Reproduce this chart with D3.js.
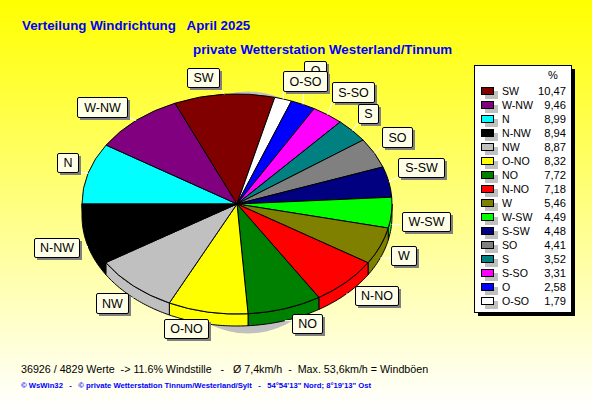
<!DOCTYPE html>
<html><head><meta charset="utf-8">
<script src="https://cdn.jsdelivr.net/npm/d3@7/dist/d3.min.js"></script>
<style>
html,body{margin:0;padding:0;background:#fff}
svg{display:block}
text{font-family:"Liberation Sans",Arial,sans-serif;white-space:pre;text-rendering:optimizeSpeed}
</style></head><body>
<script>
const categories=["SW","W-NW","N","N-NW","NW","O-NO","NO","N-NO","W","W-SW","S-SW","SO","S","S-SO","O","O-SO"];
const shares=[10.47,9.46,8.99,8.94,8.87,8.32,7.72,7.18,5.46,4.49,4.48,4.41,3.52,3.31,2.58,1.79];
const shareLabels=["10,47","9,46","8,99","8,94","8,87","8,32","7,72","7,18","5,46","4,49","4,48","4,41","3,52","3,31","2,58","1,79"];
const colours=["#800000","#800080","#00ffff","#000000","#c0c0c0","#ffff00","#008000","#ff0000","#808000","#00ff00","#000080","#808080","#008080","#ff00ff","#0000ff","#ffffff"];
const pieOrder=["N","W-NW","SW","O-SO","O","S-SO","S","SO","S-SW","W-SW","W","N-NO","NO","O-NO","NW","N-NW"];
const titleLine1="Verteilung Windrichtung   April 2025";
const titleLine2="private Wetterstation Westerland/Tinnum";
const footerLine1="36926 / 4829 Werte  -> 11.6% Windstille   -   Ø 7,4km/h  -  Max. 53,6km/h = Windböen";
const footerLine2="© WsWin32   -   © private Wetterstation Tinnum/Westerland/Sylt   -   54°54'13\" Nord; 8°19'13\" Ost";
// label-box layout (x0,y0,x1,y1), separate from the data
const labelBoxes={"SW":[187,68,219,87],"W-NW":[77,97,127,117],"N":[57,153,78,172],"N-NW":[34,238,79,257],"NW":[96,293,128,313],"O-NO":[164,319,208,338],"NO":[292,314,322,333],"N-NO":[355,286,398,305],"W":[391,246,416,265],"W-SW":[402,212,450,231],"S-SW":[398,158,444,177],"SO":[382,127,412,147],"S":[358,104,378,123],"S-SO":[332,82,374,102],"O":[304,61,326,80],"O-SO":[283,71,327,91]};
const labelDrawOrder=["O","O-SO","S-SO","S","SO","S-SW","W-SW","W","N-NO","NO","O-NO","NW","N-NW","N","W-NW","SW"];

const W=592,H=407,cx=237,cy=204,rx=155,ry=110,depth=12;
const svg=d3.select("body").append("svg").attr("width",W).attr("height",H);
const g=svg.append("defs").append("linearGradient").attr("id","bg").attr("x1",0).attr("x2",0).attr("y1",0).attr("y2",1);
g.append("stop").attr("offset","0").attr("stop-color","#ffff00");
g.append("stop").attr("offset","1").attr("stop-color","#ffffff");
svg.append("rect").attr("width",W).attr("height",H).attr("fill","url(#bg)");

const valueOf=c=>shares[categories.indexOf(c)], colourOf=c=>colours[categories.indexOf(c)];
const pie=d3.pie().sort(null).value(valueOf).startAngle(1.5*Math.PI).endAngle(3.5*Math.PI);
const arcs=pie(pieOrder);
const px=a=>cx+rx*Math.sin(a), py=a=>cy-ry*Math.cos(a);

// grey backdrop ellipse
svg.append("ellipse").attr("cx",248).attr("cy",212.5).attr("rx",100).attr("ry",121).attr("fill","#c0c0c0");

// rim
const rimArcs=arcs.map(d=>{
  const a0=((d.startAngle%(2*Math.PI))+2*Math.PI)%(2*Math.PI);
  const a1=a0+(d.endAngle-d.startAngle);
  return {name:d.data,a0:Math.max(a0,Math.PI/2),a1:Math.min(a1,1.5*Math.PI)};
}).filter(d=>d.a1>d.a0);
const line=d3.line();
svg.append("g").selectAll("path").data(rimArcs).join("path")
 .attr("d",d=>{
   const n=Math.ceil((d.a1-d.a0)*60),pts=[];
   for(let i=0;i<=n;i++){const a=d.a0+(d.a1-d.a0)*i/n;pts.push([px(a),py(a)]);}
   for(let i=n;i>=0;i--){const a=d.a0+(d.a1-d.a0)*i/n;pts.push([px(a),py(a)+depth]);}
   return line(pts)+"Z";
 })
 .attr("fill",d=>colourOf(d.name)).attr("stroke","#000").attr("stroke-width",1);

// top face
const arc=d3.arc().innerRadius(0).outerRadius(rx);
svg.append("g").attr("transform",`translate(${cx},${cy}) scale(1,${ry/rx})`)
 .selectAll("path").data(arcs).join("path")
 .attr("d",arc).attr("fill",d=>colourOf(d.data)).attr("stroke","#000").attr("stroke-width",1)
 .attr("vector-effect","non-scaling-stroke");

// leader lines
const clamp=(v,a,b)=>Math.max(a,Math.min(b,v));
svg.append("g").selectAll("line").data(arcs).join("line")
 .each(function(d){
   const a=(d.startAngle+d.endAngle)/2,b=labelBoxes[d.data];
   const x=px(a),y=py(a)+(Math.cos(a)<0?depth:0);
   d3.select(this).attr("x1",x).attr("y1",y).attr("x2",clamp(x,b[0],b[2])).attr("y2",clamp(y,b[1],b[3]));
 }).attr("stroke","#fff").attr("stroke-width",1);

// labels
const lab=svg.append("g").selectAll("g").data(labelDrawOrder).join("g");
lab.append("rect").attr("x",d=>labelBoxes[d][0]+3).attr("y",d=>labelBoxes[d][1]+3)
 .attr("width",d=>labelBoxes[d][2]-labelBoxes[d][0]).attr("height",d=>labelBoxes[d][3]-labelBoxes[d][1]).attr("fill","#808080");
lab.append("rect").attr("x",d=>labelBoxes[d][0]+.5).attr("y",d=>labelBoxes[d][1]+.5)
 .attr("width",d=>labelBoxes[d][2]-labelBoxes[d][0]).attr("height",d=>labelBoxes[d][3]-labelBoxes[d][1])
 .attr("rx",1.5).attr("fill","#ffffe8").attr("stroke","#000");
lab.append("text").attr("x",d=>(labelBoxes[d][0]+labelBoxes[d][2])/2+.5).attr("y",d=>labelBoxes[d][3]-5)
 .attr("text-anchor","middle").attr("font-size",12.5).attr("fill","#000").text(d=>d);

// legend
const rowY=d3.scalePoint().domain(categories).range([91,301]);
svg.append("rect").attr("x",478).attr("y",69).attr("width",97).attr("height",247).attr("fill","#000");
svg.append("rect").attr("x",474.5).attr("y",65.5).attr("width",97).attr("height",247).attr("fill","#ffffff").attr("stroke","#000");
svg.append("text").attr("x",553).attr("y",79).attr("text-anchor","middle").attr("font-size",11).text("%");
const row=svg.append("g").selectAll("g").data(categories).join("g").attr("transform",d=>`translate(0,${rowY(d)})`);
row.append("rect").attr("x",485).attr("y",0).attr("width",13).attr("height",8).attr("fill","#c0c0c0");
row.append("rect").attr("x",481.5).attr("y",-3.5).attr("width",12).attr("height",7).attr("fill",(d,i)=>colours[i]).attr("stroke","#000");
row.append("text").attr("x",502).attr("y",4).attr("font-size",10.6).text(d=>d);
row.append("text").attr("x",566).attr("y",4).attr("text-anchor","end").attr("font-size",11.2).text((d,i)=>shareLabels[i]);

// titles & footer
svg.append("text").attr("x",22).attr("y",30).attr("font-size",13.33).attr("font-weight","bold").attr("fill","#0000ff").text(titleLine1);
svg.append("text").attr("x",193).attr("y",54).attr("font-size",13.33).attr("font-weight","bold").attr("fill","#0000ff").text(titleLine2);
svg.append("text").attr("x",21).attr("y",373).attr("font-size",10.7).attr("fill","#000").text(footerLine1);
svg.append("text").attr("x",21).attr("y",388).attr("font-size",7.7).attr("font-weight","bold").attr("fill","#0000ff").text(footerLine2);
</script></body></html>
